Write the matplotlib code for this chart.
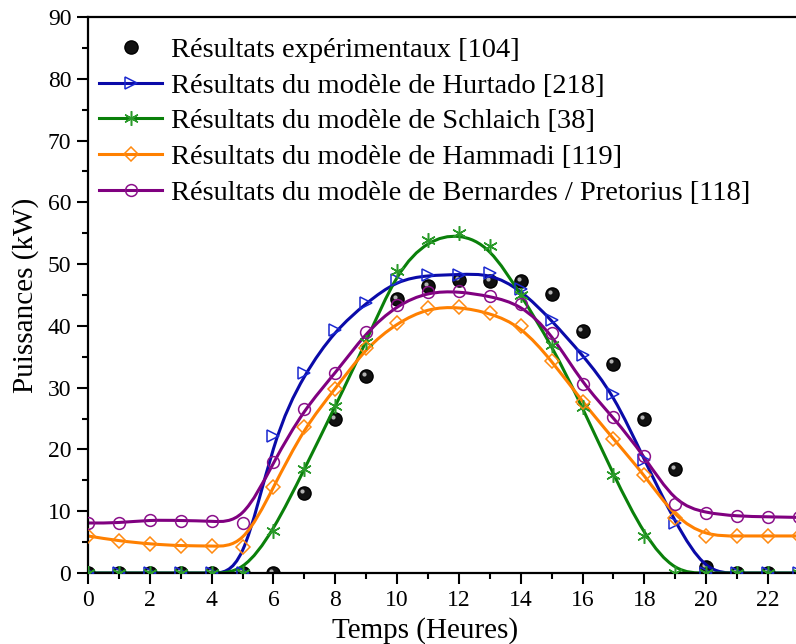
import matplotlib.pyplot as plt
import numpy as np
from matplotlib.path import Path
from matplotlib.patches import PathPatch
from matplotlib.ticker import MultipleLocator
import matplotlib.transforms as mtransforms

plt.rcParams['font.family'] = ['Liberation Serif', 'DejaVu Serif']

hours = list(range(24))

experimental = [0, 0, 0, 0, 0, 0, 0, 12.9, 24.9, 31.9, 44.3, 46.4, 47.4, 47.3, 47.3, 45.2,
                39.1, 33.9, 24.9, 16.8, 1.0, 0, 0]
hurtado = [0, 0, 0, 0, 0, 0, 22.1, 32.3, 39.3, 43.7, 47.4, 48.2, 48.3, 48.5, 45.9, 40.9,
           35.3, 29.0, 18.3, 8.1, 0, 0, 0, 0]
schlaich = [0, 0, 0, 0, 0, 0, 6.8, 16.8, 27.0, 37.4, 48.9, 53.9, 55.0, 52.9, 45.0, 36.9,
            26.8, 15.9, 6.0, 0, 0, 0, 0, 0]
hammadi = [6.0, 5.2, 4.7, 4.4, 4.4, 4.2, 13.9, 23.6, 29.8, 36.5, 40.5, 42.9, 43.1, 42.1,
           40.0, 34.4, 27.7, 21.7, 15.9, 8.9, 6.0, 6.0, 6.0, 6.0]
bernardes = [8.1, 8.1, 8.6, 8.5, 8.4, 8.1, 18.0, 26.6, 32.3, 39.0, 43.4, 45.5, 45.6, 44.8,
             43.5, 38.8, 30.6, 25.2, 18.9, 11.2, 9.7, 9.2, 9.1, 9.0]

labels = ["Résultats expérimentaux [104]",
          "Résultats du modèle de Hurtado [218]",
          "Résultats du modèle de Schlaich [38]",
          "Résultats du modèle de Hammadi [119]",
          "Résultats du modèle de Bernardes / Pretorius [118]"]


def bspline_path(x, y):
    # uniform cubic B-spline (control points = data, clamped ends) as Bezier segments
    pts = np.column_stack([x, y]).astype(float)
    pts = np.vstack([pts[:1], pts[:1], pts, pts[-1:], pts[-1:]])
    verts = [pts[2]]
    codes = [Path.MOVETO]
    for i in range(1, len(pts) - 2):
        p0, p1, p2, p3 = pts[i - 1], pts[i], pts[i + 1], pts[i + 2]
        verts += [(2 * p1 + p2) / 3, (p1 + 2 * p2) / 3, (p1 + 4 * p2 + p3) / 6]
        codes += [Path.CURVE4] * 3
    return Path(verts, codes)


fig = plt.figure(figsize=(7.96, 6.44), dpi=100)
ax = fig.add_axes([0.1106, 0.1102, 0.893, 0.8634])

# experimental balls sit underneath the model curves
xe = hours[:len(experimental)]
ax.plot(xe, experimental, ls='none', marker='o', ms=9.5, mfc='#111111', mec='#000000', zorder=1.5)
shift = mtransforms.offset_copy(ax.transData, fig=fig, x=-1.5, y=1.6, units='points')
ax.plot(xe, experimental, ls='none', marker='o', ms=3.0, mfc='#d0d0d0', mec='none',
        alpha=0.85, transform=shift, zorder=1.6)
h0, = ax.plot([], [], ls='none', marker='o', ms=9.5, mfc='#111111', mec='#000000')
handles = [h0]

series = [
    (hurtado, '#0a0aa8', '#1a28d0', '>', 8.5),
    (schlaich, '#0a800a', '#2a9a2a', (6, 2, 0), 10.5),
    (hammadi, '#ff8000', '#ff8a10', 'D', 7.5),
    (bernardes, '#800080', '#8a108a', 'o', 8.5),
]

for vals, lc, mc, mk, ms in series:
    xs = hours[:len(vals)]
    ax.add_patch(PathPatch(bspline_path(xs, vals), facecolor='none', edgecolor=lc, lw=2.2, zorder=2))
    ax.plot(xs, vals, ls='none', marker=mk, ms=ms, mfc='none', mec=mc, mew=1.1, zorder=3)
    h, = ax.plot([], [], color=lc, lw=2.2, marker=mk, ms=ms, mfc='none', mec=mc, mew=1.1)
    handles.append(h)

ax.set_xlim(0, 23)
ax.set_ylim(0, 90)
ax.xaxis.set_major_locator(MultipleLocator(2))
ax.xaxis.set_minor_locator(MultipleLocator(1))
ax.yaxis.set_major_locator(MultipleLocator(10))
ax.yaxis.set_minor_locator(MultipleLocator(5))
ax.tick_params(which='major', direction='out', length=8, width=1.5, labelsize=17, pad=4)
ax.tick_params(which='minor', direction='out', length=4.5, width=1.5)
for s in ax.spines.values():
    s.set_linewidth(1.6)

ax.set_xlabel("Temps (Heures)", fontsize=21)
ax.xaxis.set_label_coords(0.474, -0.079)
ax.set_ylabel("Puissances (kW)", fontsize=21, labelpad=6)

ax.legend(handles, labels, loc='upper left', frameon=False, fontsize=20.5,
          handlelength=2.2, handletextpad=0.32, labelspacing=0.34,
          borderaxespad=0, borderpad=0.4, bbox_to_anchor=(0.0, 0.984))

fig.savefig("out.png", dpi=100)
